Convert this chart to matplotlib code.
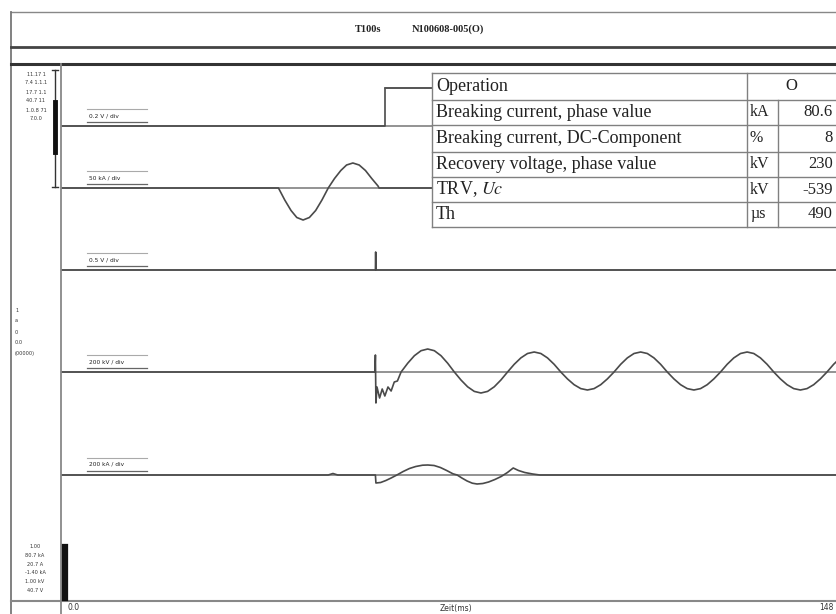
import matplotlib
matplotlib.use("Agg")
import matplotlib.pyplot as plt
from matplotlib.lines import Line2D
from matplotlib.patches import Rectangle

plt.rcParams['mathtext.fontset'] = 'stix'

# ---------------- data ----------------
title_left = "T100s"
title_right = "N100608-005(O)"

# time axis (ms)
t_start, t_end = 0.0, 147.9

# channel 1: operation signal
ch1_t = [0.0, 61.8, 61.8, 72.0]
ch1_v = [0.0, 0.0, 3.8, 3.8]

# channel 2: breaking current
ch2_t = [0.0, 41.5, 42.7, 43.9, 45.0, 46.2, 47.4, 48.6, 49.8, 51.0, 52.2, 53.4,
         54.5, 55.7, 56.9, 58.1, 59.3, 60.5, 60.7, 72.0]
ch2_v = [0.0, 0.0, -1.2, -2.25, -2.95, -3.2, -2.95, -2.25, -1.2, 0.0, 0.95, 1.75,
         2.3, 2.5, 2.3, 1.75, 0.95, 0.2, 0.0, 0.0]

# channel 3: auxiliary signal
ch3_t = [0.0, 60.0, 60.05, 60.1, 147.9]
ch3_v = [0.0, 0.0, 1.8, 0.0, 0.0]

# channel 4: recovery voltage (TRV)
ch4_t = [0.0, 59.9, 60.0, 60.1, 60.3, 60.8, 61.3, 61.8, 62.4, 63.0, 63.6, 64.2,
         64.9, 66.17, 67.44, 68.71, 69.98, 71.25, 72.52, 73.79, 75.06, 76.33,
         77.6, 78.87, 80.14, 81.41, 82.68, 83.95, 85.22, 86.49, 87.76, 89.03,
         90.3, 91.57, 92.84, 94.11, 95.38, 96.65, 97.92, 99.19, 100.46, 101.73,
         103.0, 104.27, 105.54, 106.81, 108.08, 109.35, 110.62, 111.89, 113.16,
         114.43, 115.7, 116.97, 118.24, 119.51, 120.78, 122.05, 123.32, 124.59,
         125.86, 127.13, 128.4, 129.67, 130.94, 132.21, 133.48, 134.75, 136.02,
         137.29, 138.56, 139.83, 141.1, 142.37, 143.64, 144.91, 146.18, 147.45,
         148.72]
ch4_v = [0.0, 0.0, 1.7, -3.1, -1.5, -2.6, -1.7, -2.4, -1.5, -1.9, -1.0, -0.9,
         0.0, 0.88, 1.63, 2.13, 2.3, 2.13, 1.63, 0.88, 0.0, -0.8,
         -1.48, -1.94, -2.1, -1.94, -1.48, -0.8, 0.0, 0.77, 1.41, 1.85,
         2.0, 1.85, 1.41, 0.77, 0.0, -0.69, -1.27, -1.66, -1.8, -1.66,
         -1.27, -0.69, 0.0, 0.77, 1.41, 1.85, 2.0, 1.85, 1.41,
         0.77, 0.0, -0.69, -1.27, -1.66, -1.8, -1.66, -1.27, -0.69,
         0.0, 0.77, 1.41, 1.85, 2.0, 1.85, 1.41, 0.77, 0.0,
         -0.69, -1.27, -1.66, -1.8, -1.66, -1.27, -0.69, 0.0, 0.77,
         1.41]

# channel 5: current in adjacent circuit
ch5_t = [0.0, 51.0, 51.9, 52.8, 60.0, 60.1, 61.0, 62.0, 63.0, 64.1, 65.3, 66.5,
         67.7, 69.0, 70.0, 71.2, 72.4, 73.6, 74.8, 75.6, 76.5, 77.5, 78.5, 79.4,
         80.5, 81.6, 82.8, 84.0, 85.2, 86.3, 87.3, 88.5, 90.0, 91.4, 147.9]
ch5_v = [0.0, 0.0, 0.15, 0.0, 0.0, -0.8, -0.75, -0.55, -0.3, 0.0, 0.35, 0.65,
         0.85, 0.98, 1.0, 0.95, 0.75, 0.45, 0.12, 0.0, -0.3, -0.6, -0.82, -0.9,
         -0.85, -0.7, -0.45, -0.15, 0.25, 0.7, 0.45, 0.25, 0.1, 0.0, 0.0]

channel_labels = ["0.2 V / div", "50 kA / div", "0.5 V / div", "200 kV / div", "200 kA / div"]

table_labels = ["Operation", "Breaking current, phase value", "Breaking current, DC-Component",
                "Recovery voltage, phase value", r"TRV, $Uc$", "Th"]
table_units = ["", "kA", "%", "kV", "kV", "µs"]
table_values = ["O", "80.6", "8", "230", "-539", "490"]

margin_top = ["11.17 1", "7.4 1.1.1", "17.7 1.1", "40.7 11", "1.0.8 71", "7.0.0"]
margin_mid = ["1", "a", "0", "0.0", "(00000)"]
margin_bot = ["1.00", "80.7 kA", "20.7 A", "-1.40 kA", "1.00 kV", "40.7 V"]

x_left_label, x_mid_label, x_right_label = "0.0", "Zeit(ms)", "148"

# ---------------- layout ----------------
W, H = 836, 614
fig = plt.figure(figsize=(W / 100, H / 100), dpi=100)
fig.patch.set_facecolor('white')


def fx(x):
    return x / W


def fy(y):
    return 1 - y / H


def fline(xs, ys, color='#555555', lw=1.2, z=5):
    fig.add_artist(Line2D([fx(x) for x in xs], [fy(y) for y in ys],
                          transform=fig.transFigure, color=color, lw=lw, zorder=z))


# main axes
ax_l, ax_r, ax_t, ax_b = 61, 836, 64, 601
ax = fig.add_axes([fx(ax_l), fy(ax_b), (ax_r - ax_l) / W, (ax_b - ax_t) / H])
ax.set_xlim(t_start, t_end)
ax.set_ylim(0, 53.7)
ax.axis('off')

offsets = [47.5, 41.3, 33.1, 22.9, 12.6]
series = [(ch1_t, ch1_v), (ch2_t, ch2_v), (ch3_t, ch3_v), (ch4_t, ch4_v), (ch5_t, ch5_v)]
trace_col = '#4a4a4a'
for off, (tt, vv), lab in zip(offsets, series, channel_labels):
    ax.plot([t_start, t_end], [off, off], color='#8a8a8a', lw=1.3, zorder=2)
    ax.plot(tt, [off + v for v in vv], color=trace_col, lw=1.2, zorder=3,
            solid_joinstyle='round')
    ax.plot([5.0, 16.5], [off + 1.75, off + 1.75], color='#aaaaaa', lw=0.8, zorder=3)
    ax.plot([5.0, 16.5], [off + 0.45, off + 0.45], color='#666666', lw=0.9, zorder=3)
    ax.text(5.3, off + 1.05, lab, fontsize=4.2, color='#222222', va='center', ha='left',
            family='DejaVu Sans', zorder=4)

# frame
fline([11, 836], [12, 12], '#888888', 1.0)
fline([11, 11], [12, 614], '#777777', 1.3)
fline([11, 836], [47, 47], '#444444', 2.0)
fline([11, 836], [63.5, 63.5], '#333333', 2.2)
fline([61, 61], [64, 614], '#888888', 1.3)
fline([11, 836], [601, 601], '#888888', 1.5)

# title
fig.text(fx(355), fy(29), title_left, fontsize=7.5, fontweight='bold', family='Liberation Serif',
         ha='left', va='center', color='#222222')
fig.text(fx(412), fy(29), title_right, fontsize=7.5, fontweight='bold', family='Liberation Serif',
         ha='left', va='center', color='#222222')

# scale bars in margin
fline([55, 55], [70, 187], '#333333', 1.0)
fline([52, 58], [70, 70], '#333333', 1.0)
fline([52, 58], [187, 187], '#333333', 1.0)
fline([55, 55], [102, 152], '#111111', 3.5)
fline([65, 65], [547, 598], '#111111', 4.5)

# margin texts
for i, s in enumerate(margin_top):
    fig.text(fx(36), fy(74 + i * 9), s, fontsize=3.6, ha='center', va='center', color='#333333')
for i, s in enumerate(margin_mid):
    fig.text(fx(15), fy(310 + i * 11), s, fontsize=3.6, ha='left', va='center', color='#333333')
for i, s in enumerate(margin_bot):
    fig.text(fx(35), fy(547 + i * 8.6), s, fontsize=3.6, ha='center', va='center', color='#333333')

# bottom axis texts
fig.text(fx(68), fy(608), x_left_label, fontsize=5.5, ha='left', va='center', color='#333333')
fig.text(fx(456), fy(608), x_mid_label, fontsize=5.5, ha='center', va='center', color='#333333')
fig.text(fx(834), fy(608), x_right_label, fontsize=5.5, ha='right', va='center', color='#333333')

# table
rows_y = [73, 100, 125, 152, 177, 202, 227]
c0, c1, c2, c3 = 432, 747, 778, 840
fs_tab = 13
fig.add_artist(Rectangle((fx(c0), fy(rows_y[-1])), (c3 - c0) / W, (rows_y[-1] - rows_y[0]) / H,
                         transform=fig.transFigure, facecolor='white', edgecolor='none', zorder=6))
tcol = '#808080'
for y in rows_y:
    fline([c0, c3], [y, y], tcol, 1.0, 7)
fline([c0, c0], [rows_y[0], rows_y[-1]], tcol, 1.0, 7)
fline([c1, c1], [rows_y[0], rows_y[-1]], tcol, 1.0, 7)
fline([c2, c2], [rows_y[1], rows_y[-1]], tcol, 1.0, 7)
for i in range(len(table_labels)):
    yc = (rows_y[i] + rows_y[i + 1]) / 2
    fig.text(fx(436), fy(yc), table_labels[i], fontsize=fs_tab, family='Liberation Serif',
             ha='left', va='center', color='#222222', zorder=8)
    if i == 0:
        fig.text(fx((c1 + c3 - 4) / 2), fy(yc), table_values[i], fontsize=fs_tab - 1,
                 family='Liberation Serif', ha='center', va='center', color='#222222', zorder=8)
    else:
        fig.text(fx(750), fy(yc), table_units[i], fontsize=fs_tab - 1.5, family='Liberation Serif',
                 ha='left', va='center', color='#222222', zorder=8)
        fig.text(fx(833), fy(yc), table_values[i], fontsize=fs_tab - 1, family='Liberation Serif',
                 ha='right', va='center', color='#222222', zorder=8)

# connector from operation signal to table
fline([385, c0], [88, 88], '#555555', 1.2, 5)

fig.savefig("out.png", dpi=100, facecolor='white')
